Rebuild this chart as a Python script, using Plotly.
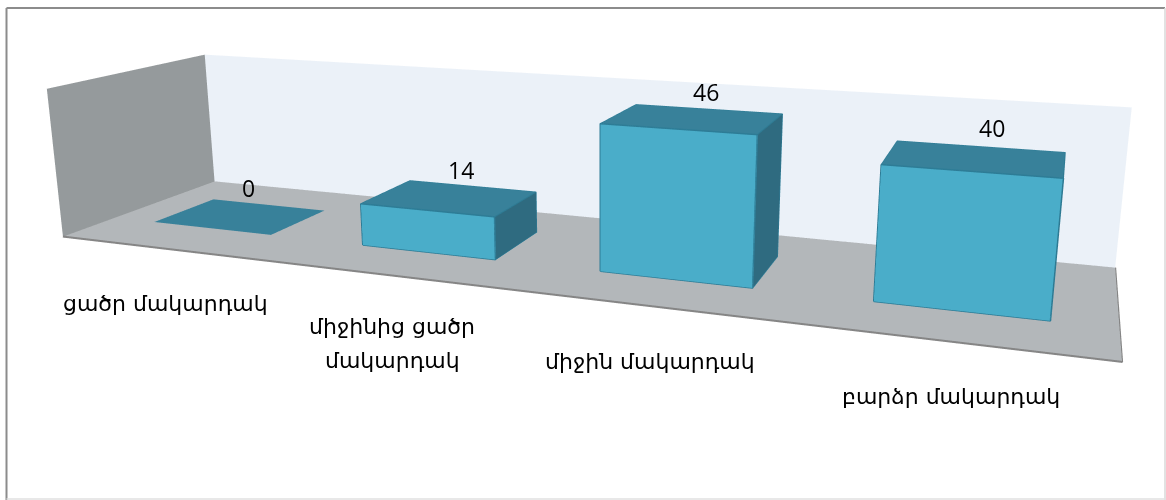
import plotly.graph_objects as go

categories = ["ցածր մակարդակ", "միջինից ցածր<br>մակարդակ", "միջին մակարդակ", "բարձր մակարդակ"]
values = [0, 14, 46, 40]
value_max = 50

# The reference has a long focal length and an off-centre view, so the scene is
# larger than the window and is shifted into place.
WIN_W, WIN_H = 1166, 500
PLOT_W, PLOT_H = 1192, 1069
PLOT_TOP = -337

BAR_GAP_X = 0.2124
BAR_Y0, BAR_Y1 = 0.2986, 0.7026
FLOOR_Z = -0.25

COL_FLOOR, COL_BACK, COL_SIDE = "#b3b7ba", "#ebf1f8", "#959a9c"
COL_FRONT, COL_TOP, COL_RIGHT = "#4aadc9", "#38819a", "#2f6b80"
COL_EDGE = "#2d7c96"

def px(x):
    return x / PLOT_W

def py(y):
    return 1 - (y - PLOT_TOP) / PLOT_H

def quad(points, color):
    xs, ys, zs = zip(*points)
    return go.Mesh3d(x=xs, y=ys, z=zs, i=[0, 0], j=[1, 2], k=[2, 3], color=color, flatshading=True,
                     lighting=dict(ambient=1, diffuse=0, specular=0, fresnel=0, roughness=1),
                     hoverinfo="skip", showscale=False)

def line(points, color, width):
    xs, ys, zs = zip(*points)
    return go.Scatter3d(x=xs, y=ys, z=zs, mode="lines", line=dict(color=color, width=width),
                        hoverinfo="skip", showlegend=False)

n = len(values)
fig = go.Figure()
# room
fig.add_trace(quad([(0, 0, FLOOR_Z), (n, 0, FLOOR_Z), (n, 1, FLOOR_Z), (0, 1, FLOOR_Z)], COL_FLOOR))
fig.add_trace(quad([(0, 1, FLOOR_Z), (n, 1, FLOOR_Z), (n, 1, value_max), (0, 1, value_max)], COL_BACK))
fig.add_trace(quad([(0, 0, FLOOR_Z), (0, 1, FLOOR_Z), (0, 1, value_max), (0, 0, value_max)], COL_SIDE))
fig.add_trace(line([(0, 1, FLOOR_Z), (n, 1, FLOOR_Z)], "#8a8a8a", 2))
fig.add_trace(line([(0, 0, FLOOR_Z), (0, 1, FLOOR_Z)], "#8a8a8a", 2))
fig.add_trace(line([(0, 0, FLOOR_Z), (n, 0, FLOOR_Z), (n, 1, FLOOR_Z)], "#858585", 4))

# bars
for i, v in enumerate(values):
    x0, x1 = i + BAR_GAP_X, i + 1 - BAR_GAP_X
    y0, y1 = BAR_Y0, BAR_Y1
    fig.add_trace(quad([(x0, y0, v), (x1, y0, v), (x1, y1, v), (x0, y1, v)], COL_TOP))
    if v > 0:
        fig.add_trace(quad([(x0, y0, 0), (x1, y0, 0), (x1, y0, v), (x0, y0, v)], COL_FRONT))
        fig.add_trace(quad([(x1, y0, 0), (x1, y1, 0), (x1, y1, v), (x1, y0, v)], COL_RIGHT))
        fig.add_trace(line([(x0, y0, 0), (x1, y0, 0), (x1, y0, v), (x0, y0, v), (x0, y0, 0)], COL_EDGE, 3))
        fig.add_trace(line([(x0, y0, v), (x0, y1, v), (x1, y1, v), (x1, y0, v)], COL_EDGE, 2))
        fig.add_trace(line([(x1, y1, v), (x1, y1, 0), (x1, y0, 0)], COL_EDGE, 2))

annotations = []
def label(text, x, y, size, family):
    annotations.append(dict(text=text, x=px(x), y=py(y), xref="paper", yref="paper", showarrow=False,
                            xanchor="center", yanchor="middle",
                            font=dict(size=size, family=family, color="#000000")))

for text, x, y in zip(values, (248, 461, 706, 992), (188, 170, 92, 128)):
    label(str(text), x, y, 23, "Open Sans")

FONT_CAT = "DejaVu Sans"
cat_lines = [c.split("<br>") for c in categories]
label(cat_lines[0][0], 165, 303, 22, FONT_CAT)
label(cat_lines[1][0], 392, 326, 22, FONT_CAT)
label(cat_lines[1][1], 392, 360, 22, FONT_CAT)
label(cat_lines[2][0], 650, 361, 22, FONT_CAT)
label(cat_lines[3][0], 951, 396, 22, FONT_CAT)

def frame(x0, y0, x1, y1, color, width):
    return dict(type="line", xref="paper", yref="paper", x0=px(x0), y0=py(y0), x1=px(x1), y1=py(y1),
                line=dict(color=color, width=width), layer="above")

hidden = dict(visible=False, showbackground=False, showgrid=False, zeroline=False, showticklabels=False)
fig.update_layout(
    width=PLOT_W, height=PLOT_H, margin=dict(l=0, r=0, t=0, b=0), autosize=False,
    paper_bgcolor="white", showlegend=False, annotations=annotations,
    shapes=[frame(6.5, 8, 1165, 8, "#8c8c8c", 2), frame(6.5, 8, 6.5, 500, "#8c8c8c", 2),
            frame(1165, 8, 1165, 500, "#d9d9d9", 1.5), frame(6.5, 499, 1165, 499, "#e0e0e0", 1.5)],
    scene=dict(
        domain=dict(x=[0, 1], y=[0, 1]), bgcolor="rgba(0,0,0,0)", dragmode="orbit",
        # ranges run slightly past the room so that its faces are not clipped
        xaxis=dict(range=[-0.04, n + 0.04], **hidden), yaxis=dict(range=[-0.02, 1.02], **hidden),
        zaxis=dict(range=[-1, value_max + 1], **hidden),
        aspectmode="manual", aspectratio=dict(x=1.5479, y=0.39582, z=0.23806),
        camera=dict(eye=dict(x=0.671, y=-1.6995, z=0.4371), center=dict(x=0.3368, y=-0.7906, z=0.1877),
                    up=dict(x=-0.0846, y=0.2345, z=0.9684),
                    projection=dict(type="perspective")),
    ),
)
post = f"""
var gd = document.getElementById('{{plot_id}}');
document.documentElement.style.overflow = 'hidden';
document.body.style.overflow = 'hidden';
document.body.style.margin = '0';
gd.style.position = 'fixed';
gd.style.left = '0px';
gd.style.top = '{PLOT_TOP}px';
"""
fig.write_html("out.html", post_script=post)
